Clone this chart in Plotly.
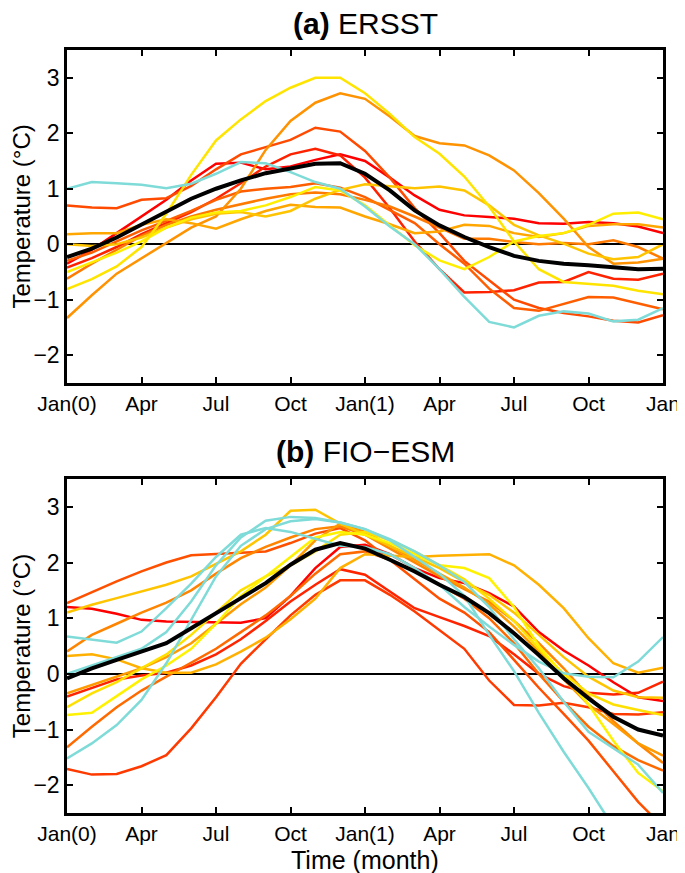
import plotly.graph_objects as go

# ---------------- data ----------------
months = list(range(25))
tick_vals = [0, 3, 6, 9, 12, 15, 18, 21, 24]
tick_text = ["Jan(0)", "Apr", "Jul", "Oct", "Jan(1)", "Apr", "Jul", "Oct", "Jan"]
y_ticks = [-2, -1, 0, 1, 2, 3]

# (a) ERSST members
a_r1 = [-0.35, -0.1, 0.2, 0.5, 0.8, 1.15, 1.45, 1.47, 1.35, 1.4, 1.52, 1.62, 1.5, 1.2, 0.88, 0.62, 0.52, 0.49, 0.46, 0.38, 0.37, 0.4, 0.38, 0.32, 0.2]
a_r2 = [-0.42, -0.25, -0.05, 0.18, 0.38, 0.58, 0.82, 1.1, 1.4, 1.62, 1.72, 1.6, 1.2, 0.65, 0.05, -0.45, -0.87, -0.86, -0.83, -0.69, -0.68, -0.5, -0.62, -0.64, -0.53]
a_r3 = [0.7, 0.66, 0.65, 0.8, 0.83, 1.05, 1.35, 1.62, 1.75, 1.88, 2.1, 2.03, 1.68, 1.2, 0.65, 0.2, -0.3, -0.65, -1.0, -1.15, -1.24, -1.3, -1.38, -1.41, -1.28]
a_r4 = [-0.3, -0.15, 0.05, 0.25, 0.42, 0.6, 0.8, 0.95, 1.0, 1.03, 1.1, 1.02, 0.85, 0.62, 0.38, 0.0, -0.35, -0.8, -1.15, -1.2, -1.07, -0.95, -0.96, -1.06, -1.17]
a_o1 = [-0.62, -0.35, -0.1, 0.15, 0.35, 0.5, 0.62, 0.72, 0.82, 0.9, 0.93, 0.9, 0.8, 0.68, 0.5, 0.3, 0.1, 0.1, 0.04, 0.0, 0.02, 0.0, 0.07, -0.05, -0.26]
a_o2 = [-1.33, -0.92, -0.53, -0.25, 0.02, 0.3, 0.5, 1.0, 1.7, 2.22, 2.55, 2.72, 2.62, 2.3, 1.95, 1.82, 1.78, 1.6, 1.33, 0.92, 0.46, -0.05, -0.35, -0.33, -0.26]
a_o3 = [0.18, 0.2, 0.2, 0.35, 0.45, 0.38, 0.28, 0.45, 0.6, 0.71, 0.67, 0.66, 0.5, 0.36, 0.2, 0.23, 0.35, 0.33, 0.2, 0.13, 0.2, 0.33, 0.36, 0.36, 0.3]
a_g1 = [0.0, -0.03, 0.0, 0.12, 0.3, 0.45, 0.55, 0.58, 0.5, 0.6, 0.82, 0.98, 1.08, 1.04, 1.01, 1.04, 0.97, 0.7, 0.35, 0.16, 0.01, -0.17, -0.27, -0.23, 0.0]
a_y1 = [-0.5, -0.32, -0.15, 0.05, 0.3, 0.48, 0.57, 0.6, 0.7, 0.85, 1.03, 0.97, 0.7, 0.34, -0.02, -0.29, -0.45, -0.23, 0.05, 0.15, 0.2, 0.35, 0.55, 0.57, 0.45]
a_y2 = [-0.81, -0.63, -0.4, -0.05, 0.55, 1.25, 1.87, 2.25, 2.58, 2.82, 3.0, 3.0, 2.72, 2.35, 1.93, 1.63, 1.22, 0.68, 0.05, -0.45, -0.68, -0.72, -0.75, -0.84, -0.9]
a_c1 = [1.0, 1.12, 1.1, 1.07, 1.01, 1.09, 1.27, 1.48, 1.46, 1.3, 1.12, 1.0, 0.68, 0.32, 0.0, -0.45, -0.95, -1.4, -1.5, -1.29, -1.21, -1.25, -1.39, -1.36, -1.15]
a_mean = [-0.23, -0.08, 0.12, 0.36, 0.6, 0.82, 1.0, 1.15, 1.28, 1.37, 1.45, 1.46, 1.27, 0.97, 0.61, 0.34, 0.13, -0.05, -0.21, -0.3, -0.35, -0.38, -0.41, -0.45, -0.44]

# (b) FIO-ESM members
b_r1 = [1.2, 1.17, 1.08, 0.97, 0.94, 0.93, 0.92, 0.92, 1.0, 1.4, 1.9, 2.28, 2.32, 2.15, 1.9, 1.72, 1.63, 1.45, 1.21, 0.75, 0.42, 0.15, -0.15, -0.42, -0.49]
b_r2 = [-0.41, -0.25, -0.1, -0.03, 0.02, 0.15, 0.35, 0.62, 0.95, 1.3, 1.6, 1.88, 1.78, 1.48, 1.18, 1.02, 0.86, 0.68, 0.35, 0.0, -0.22, -0.34, -0.37, -0.34, -0.14]
b_r3 = [-1.71, -1.81, -1.8, -1.66, -1.46, -0.98, -0.42, 0.18, 0.62, 1.05, 1.42, 1.68, 1.68, 1.42, 1.12, 0.78, 0.45, -0.12, -0.56, -0.57, -0.52, -0.6, -0.72, -0.73, -0.69]
b_r4 = [1.27, 1.47, 1.66, 1.84, 2.0, 2.13, 2.15, 2.17, 2.2, 2.35, 2.52, 2.62, 2.4, 2.05, 1.7, 1.35, 1.1, 0.75, 0.25, -0.25, -0.72, -1.2, -1.75, -2.3, -2.75]
b_o1 = [-1.32, -0.95, -0.6, -0.3, -0.05, 0.2, 0.45, 0.75, 1.05, 1.4, 1.8, 2.15, 2.2, 2.05, 1.85, 1.6, 1.35, 1.0, 0.55, 0.0, -0.5, -0.95, -1.3, -1.55, -1.74]
b_o2 = [0.4, 0.7, 0.9, 1.1, 1.28, 1.5, 1.8, 2.08, 2.28, 2.45, 2.6, 2.65, 2.5, 2.25, 2.0, 1.75, 1.52, 1.3, 0.95, 0.55, 0.1, -0.4, -0.85, -1.25, -1.6]
b_o3 = [-0.35, -0.2, -0.05, 0.1, 0.3, 0.55, 0.9, 1.25, 1.55, 1.95, 2.4, 2.7, 2.55, 2.3, 2.05, 1.8, 1.55, 1.25, 0.85, 0.4, -0.1, -0.55, -0.9, -1.25, -1.47]
b_o4 = [0.32, 0.35, 0.26, 0.1, 0.02, 0.02, 0.17, 0.4, 0.65, 0.98, 1.35, 1.9, 2.15, 2.12, 2.1, 2.12, 2.14, 2.15, 1.95, 1.6, 1.18, 0.64, 0.19, 0.02, 0.11]
b_g1 = [1.1, 1.24, 1.36, 1.48, 1.6, 1.75, 1.98, 2.2, 2.5, 2.93, 2.95, 2.7, 2.5, 2.3, 2.1, 1.9, 1.65, 1.42, 1.1, 0.7, 0.3, -0.05, -0.3, -0.42, -0.43]
b_y1 = [-0.6, -0.35, -0.15, 0.1, 0.35, 0.7, 1.1, 1.5, 1.75, 1.95, 2.2, 2.5, 2.55, 2.4, 2.2, 1.95, 1.7, 1.35, 0.95, 0.45, 0.0, -0.35, -0.55, -0.65, -0.74]
b_y2 = [-0.74, -0.7, -0.4, -0.1, 0.15, 0.45, 0.9, 1.4, 1.75, 2.1, 2.45, 2.55, 2.5, 2.35, 2.15, 1.95, 1.9, 1.72, 1.2, 0.5, -0.02, -0.55, -1.2, -1.78, -2.11]
b_c1 = [0.67, 0.62, 0.56, 0.76, 1.18, 1.62, 2.1, 2.5, 2.62, 2.55, 2.42, 2.3, 2.28, 2.15, 1.9, 1.6, 1.2, 0.85, 0.52, 0.22, 0.01, -0.05, -0.06, 0.22, 0.66]
b_c2 = [0.0, 0.15, 0.3, 0.45, 0.75, 1.3, 1.95, 2.45, 2.75, 2.82, 2.8, 2.72, 2.6, 2.4, 2.1, 1.8, 1.4, 0.7, 0.05, -0.7, -1.4, -2.05, -2.75, -3.4, -4.0]
b_c3 = [-1.52, -1.25, -0.92, -0.47, 0.19, 0.97, 1.75, 2.3, 2.6, 2.74, 2.78, 2.72, 2.6, 2.42, 2.2, 1.95, 1.65, 1.2, 0.62, 0.1, -0.5, -1.04, -1.34, -1.63, -1.93]
b_c3_end = -2.14
b_mean = [-0.08, 0.1, 0.25, 0.4, 0.55, 0.82, 1.09, 1.36, 1.63, 1.96, 2.23, 2.35, 2.25, 2.05, 1.84, 1.6, 1.38, 1.09, 0.73, 0.34, -0.08, -0.44, -0.77, -1.0, -1.11]

# ---------------- styles ----------------
a_members = [a_r1, a_r2, a_r3, a_r4, a_o1, a_o2, a_o3, a_g1, a_y1, a_y2, a_c1]
a_colors = ["#FF0000", "#FF2200", "#FF4A00", "#FF5E00", "#FF7A00", "#FF9200",
            "#FFA600", "#FFC400", "#FFEE00", "#FFE400", "#7FDBD8"]
b_c3_full = b_c3[:24] + [b_c3_end]
b_members = [b_r1, b_r2, b_r3, b_r4, b_o1, b_o2, b_o3, b_o4, b_g1, b_y1, b_y2,
             b_c1, b_c2, b_c3_full]
b_colors = ["#FF0000", "#FF2400", "#FF3A00", "#FF5000", "#FF6A00", "#FF8400",
            "#FF9A00", "#FFB000", "#FFC400", "#FFE000", "#FFF200",
            "#7FDBD8", "#7FDBD8", "#7FDBD8"]

FONT = "Liberation Sans, Arial, Helvetica, sans-serif"
fig = go.Figure()

for vals, col in zip(a_members, a_colors):
    fig.add_trace(go.Scatter(x=months, y=vals, mode="lines", xaxis="x", yaxis="y",
                             line=dict(color=col, width=2.5), showlegend=False, hoverinfo="skip"))
fig.add_trace(go.Scatter(x=months, y=a_mean, mode="lines", xaxis="x", yaxis="y",
                         line=dict(color="black", width=4), showlegend=False))

for vals, col in zip(b_members, b_colors):
    fig.add_trace(go.Scatter(x=months, y=vals, mode="lines", xaxis="x2", yaxis="y2",
                             line=dict(color=col, width=2.5), showlegend=False, hoverinfo="skip"))
fig.add_trace(go.Scatter(x=months, y=b_mean, mode="lines", xaxis="x2", yaxis="y2",
                         line=dict(color="black", width=4), showlegend=False))

xcommon = dict(range=[0, 24], tickvals=tick_vals, ticktext=tick_text, ticks="inside",
               ticklen=6, tickwidth=2, tickcolor="black", showline=True, linewidth=2.5,
               linecolor="black", mirror="ticks", showgrid=False, zeroline=False,
               tickfont=dict(family=FONT, size=21, color="black"), ticklabelstandoff=0,
               automargin=False)
ycommon = dict(range=[-2.5, 3.5], tickvals=y_ticks, ticks="inside", ticklen=6, tickwidth=2,
               tickcolor="black", showline=True, linewidth=2.5, linecolor="black",
               mirror="ticks", showgrid=False, zeroline=True, zerolinecolor="black",
               zerolinewidth=1.6, tickfont=dict(family=FONT, size=23, color="black"),
               ticklabelstandoff=0, automargin=False)

# page body adds an 8px offset, so figure is 8px smaller and margins are reduced accordingly
fig.update_layout(
    width=677, height=865,
    margin=dict(l=59, r=22, t=42, b=60),
    paper_bgcolor="white", plot_bgcolor="white",
    xaxis=dict(domain=[0, 1], anchor="y", **xcommon),
    yaxis=dict(domain=[0.5636, 1], anchor="x", **ycommon),
    xaxis2=dict(domain=[0, 1], anchor="y2", **xcommon),
    yaxis2=dict(domain=[0, 0.4377], anchor="x2", **ycommon),
)

ylab_font = dict(family=FONT, size=24, color="black")
xlab_font = dict(family=FONT, size=25, color="black")
title_font = dict(family=FONT, size=30, color="black")
fig.add_annotation(text="<b>(a)</b> ERSST", xref="x domain", yref="y domain", x=0.5, y=1,
                   yanchor="middle", yshift=27, showarrow=False, font=title_font)
fig.add_annotation(text="<b>(b)</b> FIO\u2212ESM", xref="x2 domain", yref="y2 domain", x=0.5, y=1,
                   yanchor="middle", yshift=28, showarrow=False, font=title_font)
fig.add_annotation(text="Temperature (\u00b0C)", xref="paper", yref="y domain", x=-0.077, y=0.5,
                   xanchor="center", yanchor="middle", textangle=-90, showarrow=False, font=ylab_font)
fig.add_annotation(text="Temperature (\u00b0C)", xref="paper", yref="y2 domain", x=-0.077, y=0.5,
                   xanchor="center", yanchor="middle", textangle=-90, showarrow=False, font=ylab_font)
fig.add_annotation(text="Time (month)", xref="x2 domain", yref="paper", x=0.5, y=0,
                   yanchor="middle", yshift=-47, showarrow=False, font=xlab_font)

fig.write_html("out.html")
